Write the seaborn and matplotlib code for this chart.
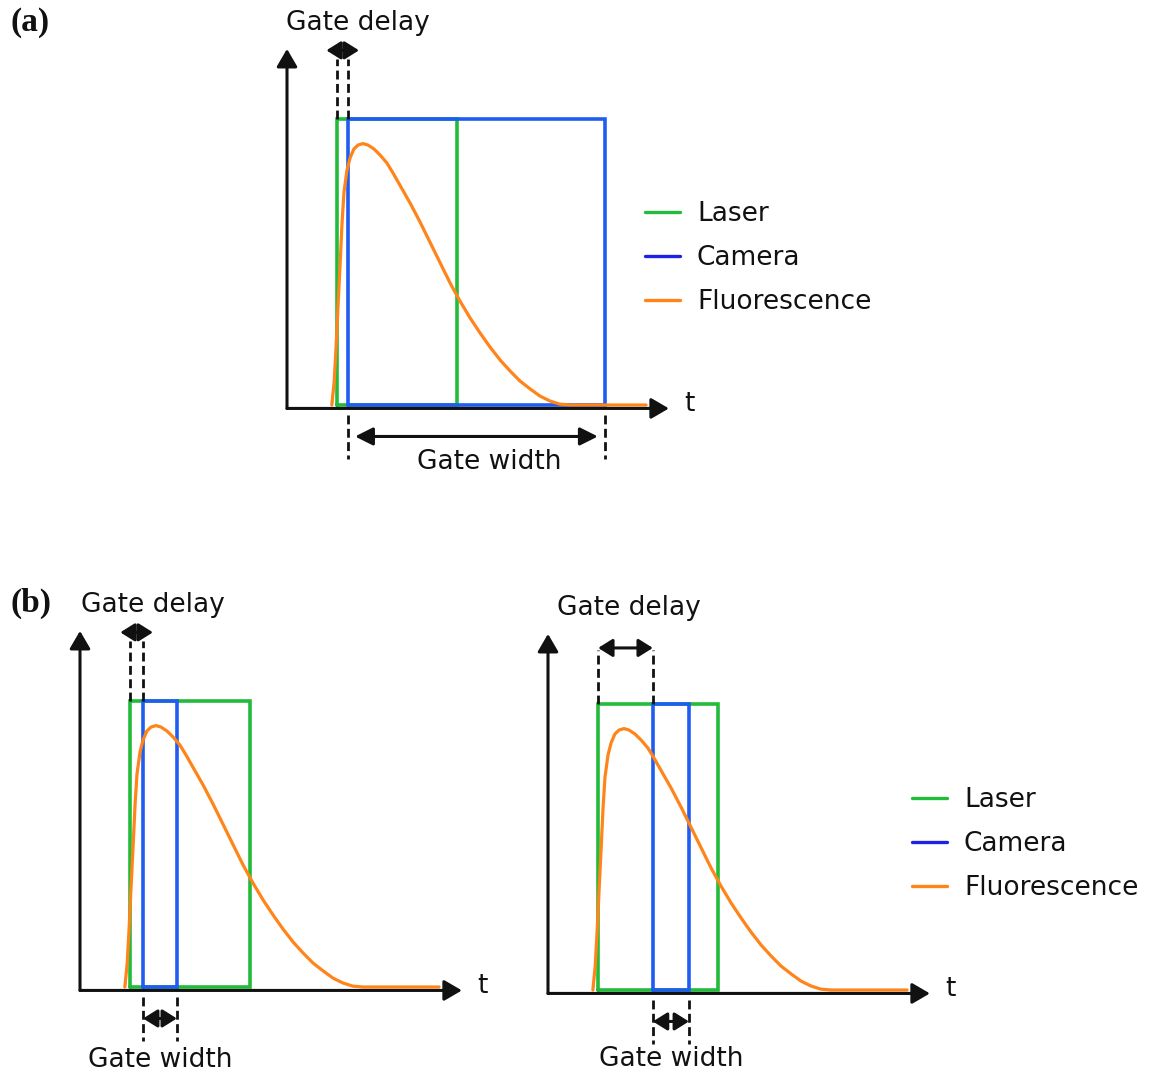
import matplotlib
matplotlib.use("Agg")
import matplotlib.pyplot as plt
from matplotlib.lines import Line2D
import seaborn as sns

sns.set_theme(style="white")
plt.rcParams["font.family"] = ["DejaVu Sans"]

# Fluorescence response to the excitation pulse (time in a.u., normalised intensity)
fluo_t = [1.18, 1.24, 1.29, 1.34, 1.40, 1.45, 1.50, 1.58, 1.66, 1.76, 1.87, 2.00,
          2.13, 2.29, 2.45, 2.63, 2.79, 2.97, 3.24, 3.50, 3.76, 4.03, 4.29, 4.55,
          4.82, 5.08, 5.34, 5.61, 5.87, 6.13, 6.40, 6.66, 6.92, 7.18, 7.45, 9.45]
fluo_i = [0.000, 0.080, 0.199, 0.339, 0.500, 0.640, 0.745, 0.822, 0.864, 0.895,
          0.909, 0.914, 0.909, 0.895, 0.874, 0.846, 0.811, 0.769, 0.706, 0.640,
          0.570, 0.497, 0.427, 0.364, 0.304, 0.252, 0.203, 0.157, 0.119, 0.084,
          0.056, 0.031, 0.014, 0.003, 0.000, 0.000]

# Laser pulse (on, off)
laser_on, laser_off = 1.32, 4.48
# Camera gate for each timing scheme: (a), (b) left, (b) right
camera_on = [1.61, 1.66, 2.76]
camera_off = [8.36, 2.55, 3.71]

legend_labels = ["Laser", "Camera", "Fluorescence"]

GREEN = "#22bb3a"
BLUE = "#1f5cf2"
BLUE_KEY = "#1e22e6"
ORANGE = "#ff8419"
INK = "#111111"
FS = 19

W, H = 1150, 1074
fig = plt.figure(figsize=(W / 100, H / 100), dpi=100)

PX_T, PX_I = 38.0, 286.0
T_LIM = (-0.6, 11.4)
I_LIM = (-0.35, 1.45)


def add_panel(ox, oy):
    left = ox + T_LIM[0] * PX_T
    right = ox + T_LIM[1] * PX_T
    top = oy - I_LIM[1] * PX_I
    bottom = oy - I_LIM[0] * PX_I
    ax = fig.add_axes([left / W, 1 - bottom / H, (right - left) / W, (bottom - top) / H])
    ax.set_xlim(*T_LIM)
    ax.set_ylim(*I_LIM)
    ax.axis("off")
    return ax


def arrow(ax, p0, p1, style, head_length=0.6, head_width=0.35):
    ax.annotate("", xy=p1, xytext=p0, annotation_clip=False,
                arrowprops=dict(arrowstyle=f"{style},head_length={head_length},"
                                           f"head_width={head_width}",
                                lw=2.2, color=INK, mutation_scale=18,
                                shrinkA=0, shrinkB=0))


def span_arrow(ax, t0, t1, y):
    mid, half = (t0 + t1) / 2, (t1 - t0) / 2
    if half < 0.8:
        # short span: keep two compact heads, tips may reach past the marks
        half = max(half, 0.43)
        arrow(ax, (mid - half, y), (mid + half, y), "<|-|>", 0.48, 0.3)
    else:
        half -= 0.18
        arrow(ax, (mid - half, y), (mid + half, y), "<|-|>", 0.6, 0.3)


def dashed(ax, t, y0, y1):
    ax.plot([t, t], [y0, y1], color=INK, lw=2.0, dashes=(3.2, 1.6), clip_on=False)


def pulse(t0, t1):
    return [t0, t0, t1, t1, t0], [0.0, 1.0, 1.0, 0.0, 0.0]


def draw_panel(ax, k, delay_y, delay_top, delay_label, width_label_dx, width_label_y):
    axis_y = -0.012
    # time and intensity axes
    arrow(ax, (0, axis_y), (10.05, axis_y), "-|>")
    arrow(ax, (0, axis_y), (0, 1.245), "-|>")
    ax.text(10.6, 0.005, "t", fontsize=FS, color=INK, ha="center", va="center")

    lx, ly = pulse(laser_on, laser_off)
    sns.lineplot(x=lx, y=ly, sort=False, estimator=None, color=GREEN, lw=2.6,
                 ax=ax, solid_joinstyle="miter", legend=False)
    cx, cy = pulse(camera_on[k], camera_off[k])
    sns.lineplot(x=cx, y=cy, sort=False, estimator=None, color=BLUE, lw=2.6,
                 ax=ax, solid_joinstyle="miter", legend=False)
    sns.lineplot(x=fluo_t, y=fluo_i, sort=False, estimator=None, color=ORANGE,
                 lw=2.3, ax=ax, legend=False, solid_joinstyle="round")

    # gate delay: laser onset to camera opening
    d0, d1 = laser_on, camera_on[k]
    dashed(ax, d0, 1.0, delay_top)
    dashed(ax, d1, 1.0, delay_top)
    span_arrow(ax, d0, d1, delay_y)
    ax.text(delay_label, 1.335, "Gate delay", fontsize=FS, color=INK,
            ha="center", va="center")

    # gate width: camera opening to closing
    g0, g1 = camera_on[k], camera_off[k]
    dashed(ax, g0, -0.035, -0.19)
    dashed(ax, g1, -0.035, -0.19)
    span_arrow(ax, g0, g1, -0.11)
    ax.text((g0 + g1) / 2 + width_label_dx, width_label_y, "Gate width",
            fontsize=FS, color=INK, ha="center", va="center")


ax_a = add_panel(287, 405)
draw_panel(ax_a, 0, 1.24, 1.21, 1.87, 0.35, -0.2)

ax_b1 = add_panel(80, 987)
draw_panel(ax_b1, 1, 1.24, 1.21, 1.92, 0.0, -0.255)

ax_b2 = add_panel(548, 990)
draw_panel(ax_b2, 2, 1.196, 1.19, 2.13, 0.0, -0.24)

handles = [Line2D([], [], color=c, lw=2.4) for c in (GREEN, BLUE_KEY, ORANGE)]
for ax, (px, py) in ((ax_a, (645, 201)), (ax_b2, (912, 787))):
    ax.legend(handles, legend_labels, loc="upper left",
              bbox_to_anchor=(px / W, 1 - py / H), bbox_transform=fig.transFigure,
              frameon=False, fontsize=FS, handlelength=1.33, handletextpad=0.64,
              labelspacing=0.69, borderpad=0, borderaxespad=0, labelcolor=INK)

for label, y in (("(a)", 22), ("(b)", 603)):
    fig.text(10 / W, 1 - y / H, label, fontsize=24, fontweight="bold",
             family="Liberation Serif", color=INK, ha="left", va="center")

fig.savefig("out.png", dpi=100)
